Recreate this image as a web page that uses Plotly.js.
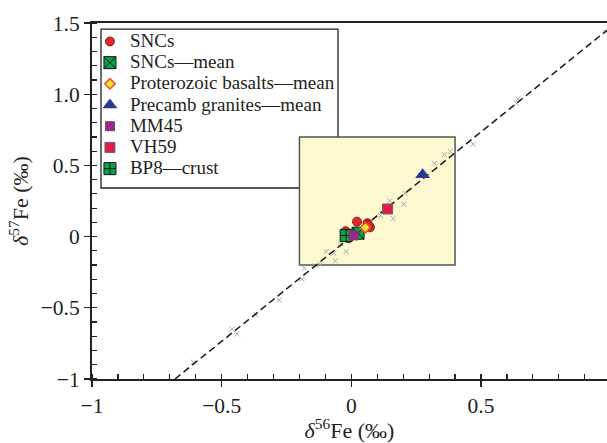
<!DOCTYPE html>
<html><head><meta charset="utf-8">
<script src="https://cdn.plot.ly/plotly-3.0.1.min.js"></script>
<style>html,body{margin:0;padding:0;background:#fff}#chart{width:607px;height:443px}</style>
</head><body><div id="chart"></div>
<script>
// Gray background data points (δ56Fe, δ57Fe)
const bgX = [-0.609,-0.460,-0.441,-0.368,-0.278,-0.190,-0.181,-0.139,-0.120,-0.097,-0.068,-0.062,-0.020,-0.042,0.112,0.148,0.161,0.202,0.208,0.320,0.359,0.382,0.470,0.637,0.643,0.980];
const bgY = [-0.882,-0.650,-0.683,-0.550,-0.444,-0.299,-0.222,-0.204,-0.194,-0.105,-0.117,-0.171,-0.105,-0.051,0.147,0.251,0.126,0.227,0.305,0.515,0.576,0.597,0.649,0.937,0.967,1.435];
// Mass-fractionation line end points
const lineX = [-0.680, 0.990];
const lineY = [-1.000, 1.455];
// Labelled samples
const sncX = [0.022, 0.062, 0.072, 0.066, -0.022, -0.012];
const sncY = [0.105, 0.094, 0.065, 0.080, 0.038, -0.012];
const sncMeanX = [0.026];   const sncMeanY = [0.024];
const basaltX = [0.054];    const basaltY = [0.063];
const graniteX = [0.275];   const graniteY = [0.435];
const mm45X = [0.009];      const mm45Y = [0.008];
const vh59X = [0.140];      const vh59Y = [0.194];
const bp8X = [-0.020];      const bp8Y = [0.007];
const names = ['SNCs','SNCs\u2014mean','Proterozoic basalts\u2014mean','Precamb granites\u2014mean','MM45','VH59','BP8\u2014crust'];
// Axis ticks
const xTickVals = [-1,-0.5,0,0.5];
const xTickText = ['\u22121','\u22120.5','0','0.5'];
const yTickVals = [-1,-0.5,0,0.5,1.0,1.5];
const yTickText = ['\u22121','\u22120.5','0','0.5','1.0','1.5'];

const lbl = s => '<span style="font-size:19px">' + s + '</span>';
const serif = 'Liberation Serif, Times New Roman, serif';

const traces = [
  {x: bgX, y: bgY, mode:'markers', type:'scatter', showlegend:false,
   marker:{symbol:'x-thin', size:5, line:{color:'#a8a8a8', width:1}}},
  {x: lineX, y: lineY, mode:'lines', type:'scatter', showlegend:false,
   line:{color:'#1a1a1a', width:1.5, dash:'7px,4px'}},
  {x: sncX, y: sncY, name: lbl(names[0]), legendrank:1, mode:'markers', type:'scatter',
   marker:{symbol:'circle', size:9, color:'#E3262B', line:{color:'#5a1414', width:0.8}}},
  {x: sncMeanX, y: sncMeanY, name: lbl(names[1]), legendrank:2, mode:'markers', type:'scatter',
   marker:{symbol:'square-x', size:12, color:'#0FA04C', line:{color:'#0a1a0f', width:1}}},
  {x: basaltX, y: basaltY, name: lbl(names[2]), legendrank:3, mode:'markers', type:'scatter',
   marker:{symbol:'diamond', size:8, color:'#FFE52E', line:{color:'#F0502A', width:1.5}}},
  {x: graniteX, y: graniteY, name: lbl(names[3]), legendrank:4, mode:'markers', type:'scatter',
   marker:{symbol:'triangle-up', size:13, color:'#2B3990', line:{width:0}}},
  {x: bp8X, y: bp8Y, name: lbl(names[6]), legendrank:7, mode:'markers', type:'scatter',
   marker:{symbol:'square-cross', size:12, color:'#0FA04C', line:{color:'#0a1a0f', width:1}}},
  {x: mm45X, y: mm45Y, name: lbl(names[4]), legendrank:5, mode:'markers', type:'scatter',
   marker:{symbol:'square', size:9, color:'#A3238E', line:{color:'#555', width:1}}},
  {x: vh59X, y: vh59Y, name: lbl(names[5]), legendrank:6, mode:'markers', type:'scatter',
   marker:{symbol:'square', size:10, color:'#E5194A', line:{color:'#666', width:1}}}
];

const axisCommon = {
  showgrid:false, zeroline:false, showline:true, linecolor:'#222', linewidth:2,
  ticks:'outside', ticklen:6, tickwidth:1.3, tickcolor:'#222',
  tickfont:{family:serif, size:21.5, color:'#231F20'},
  minor:{ticks:'inside', ticklen:5, tickwidth:1.2, tickcolor:'#222', dtick:0.1, showgrid:false}
};

const layout = {
  width:607, height:443,
  margin:{l:92, r:0, t:23, b:64},
  paper_bgcolor:'#fff', plot_bgcolor:'#fff',
  font:{family:serif, color:'#231F20'},
  xaxis: Object.assign({}, axisCommon, {
    range:[-1, 0.986], tickmode:'array', tickvals:xTickVals, ticktext:xTickText, mirror:true,
    title:{text:'<i>δ</i><sup>56</sup>Fe (‰)', font:{family:serif, size:22, color:'#231F20'}, standoff:0}
  }),
  yaxis: Object.assign({}, axisCommon, {
    range:[-1, 1.5], tickmode:'array', tickvals:yTickVals, ticktext:yTickText, mirror:false,
    title:{text:'<i>δ</i><sup>57</sup>Fe (‰)', font:{family:serif, size:22, color:'#231F20'}, standoff:6}
  }),
  xaxis2: {overlaying:'x', range:[-1, 0.986], tickmode:'array', tickvals:xTickVals, ticks:'inside', ticklen:5, tickwidth:1.3, tickcolor:'#222', showticklabels:false, showgrid:false, zeroline:false, showline:false, side:'bottom'},
  yaxis2: {overlaying:'y', range:[-1, 1.5], tickmode:'array', tickvals:yTickVals, ticks:'inside', ticklen:5, tickwidth:1.3, tickcolor:'#222', showticklabels:false, showgrid:false, zeroline:false, showline:false, side:'left'},
  showlegend:true,
  legend:{x:-0.004, y:0.992, xanchor:'left', yanchor:'top', bgcolor:'rgba(0,0,0,0)', borderwidth:0,
    font:{family:serif, size:14, color:'#231F20'}, itemclick:false},
  shapes:[
    {type:'rect', xref:'paper', yref:'paper', x0:0.0175, x1:0.4777, y0:0.5365, y1:0.983,
     line:{color:'#222', width:1.3}, fillcolor:'#fff', layer:'below'},
    {type:'rect', xref:'x', yref:'y', x0:-0.2, x1:0.4, y0:-0.2, y1:0.7,
     line:{color:'#555', width:1.5}, fillcolor:'#FFF9D2', layer:'below'}
  ]
};

Plotly.newPlot('chart', traces, layout, {staticPlot:true, displayModeBar:false});
</script></body></html>
